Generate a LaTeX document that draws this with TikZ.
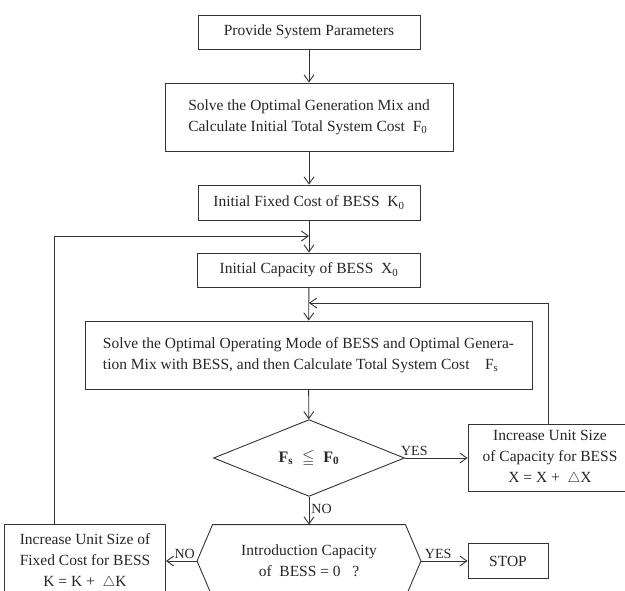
\documentclass[tikz,border=0pt]{standalone}
\usepackage{fontspec}
\setmainfont{Liberation Serif}
\usepackage{amsmath,amssymb}
\usetikzlibrary{arrows.meta}
\usetikzlibrary{shapes.geometric}

\tikzset{
  box/.style={draw=black!80, line width=.9pt, minimum height=34pt, inner sep=0pt,
    align=center, text=black!85, font=\fontsize{15.5}{21}\selectfont},
  decision/.style={draw=black!80, line width=.9pt, diamond, inner sep=0pt,
    text=black!85, font=\fontsize{16}{21}\selectfont},
  lbl/.style={text=black!85, font=\fontsize{14}{16}\selectfont, inner sep=2pt},
  flow/.style={draw=black!80, line width=.9pt, ->},
}

\begin{document}
\begin{tikzpicture}[x=1pt, y=-1pt, >={Straight Barb[length=7pt,width=10pt]}]
\clip (0,0) rectangle (625,591);
% main column
\node[box, minimum width=222pt] (params) at (309,32) {Provide System Parameters};
\node[box, minimum width=288pt, minimum height=68pt, align=left] (mix) at (309,117)
  {Solve the Optimal Generation Mix and\\Calculate Initial Total System Cost~~F\textsubscript{0}};
\node[box, minimum width=222pt, minimum height=35pt] (fixcost) at (309,202.5) {Initial Fixed Cost of BESS~~K\textsubscript{0}};
\node[box, minimum width=223pt] (cap) at (309,270) {Initial Capacity of BESS~~X\textsubscript{0}};
\node[box, minimum width=447pt, minimum height=68pt, align=left] (oper) at (308.5,355)
  {Solve the Optimal Operating Mode of BESS and Optimal Genera-\\tion Mix with BESS, and then Calculate Total System Cost~~~~F\textsubscript{s}};
\node[decision, minimum width=191pt, minimum height=70pt] (check) at (309,458) {$\mathbf{F_s}\ \leqq\ \mathbf{F_0}$};
\node[box, minimum width=164pt, minimum height=67pt] (incX) at (550,458)
  {Increase Unit Size\\of Capacity for BESS\\X = X + ~$\triangle$X};
% hexagon
\node[box, draw=none, minimum width=223pt, minimum height=72pt] (zero) at (309,561)
  {Introduction Capacity\\of~~BESS = 0~~~?};
\draw[black!80, line width=.9pt] ([xshift=15.5pt]zero.north west) -- ([xshift=-15.5pt]zero.north east)
  -- (zero.east) -- ([xshift=-15.5pt]zero.south east) -- ([xshift=15.5pt]zero.south west) -- (zero.west) -- cycle;
\node[box, minimum width=80pt, minimum height=35pt] (stop) at (508,561) {STOP};
\node[box, minimum width=161pt, minimum height=74pt] (incK) at (85,561)
  {Increase Unit Size of\\Fixed Cost for BESS\\K = K + ~$\triangle$K};
% arrows
\draw[flow] (params) -- (mix);
\draw[flow] (mix) -- (fixcost);
\draw[flow] (fixcost) -- (cap);
\draw[flow] (cap) -- (oper);
\draw[flow] (oper) -- (check);
\draw[flow] (check) -- node[lbl, above, pos=.15] {YES} (incX);
\draw[flow] (check) -- node[lbl, right, pos=.45] {NO} (zero);
\draw[flow] (zero) -- node[lbl, above, pos=.4] {NO} (incK);
\draw[flow] (zero) -- node[lbl, above, pos=.37] {YES} (stop);
% loops back
\coordinate (joinK) at (309,236);
\coordinate (kcorner) at (54,236);
\draw[flow] (kcorner |- incK.north) -- (kcorner) -- (joinK);
\coordinate (joinX) at (309,303);
\coordinate (xcorner) at (548,303);
\draw[flow] (xcorner |- incX.north) -- (xcorner) -- (joinX);
\end{tikzpicture}
\end{document}
